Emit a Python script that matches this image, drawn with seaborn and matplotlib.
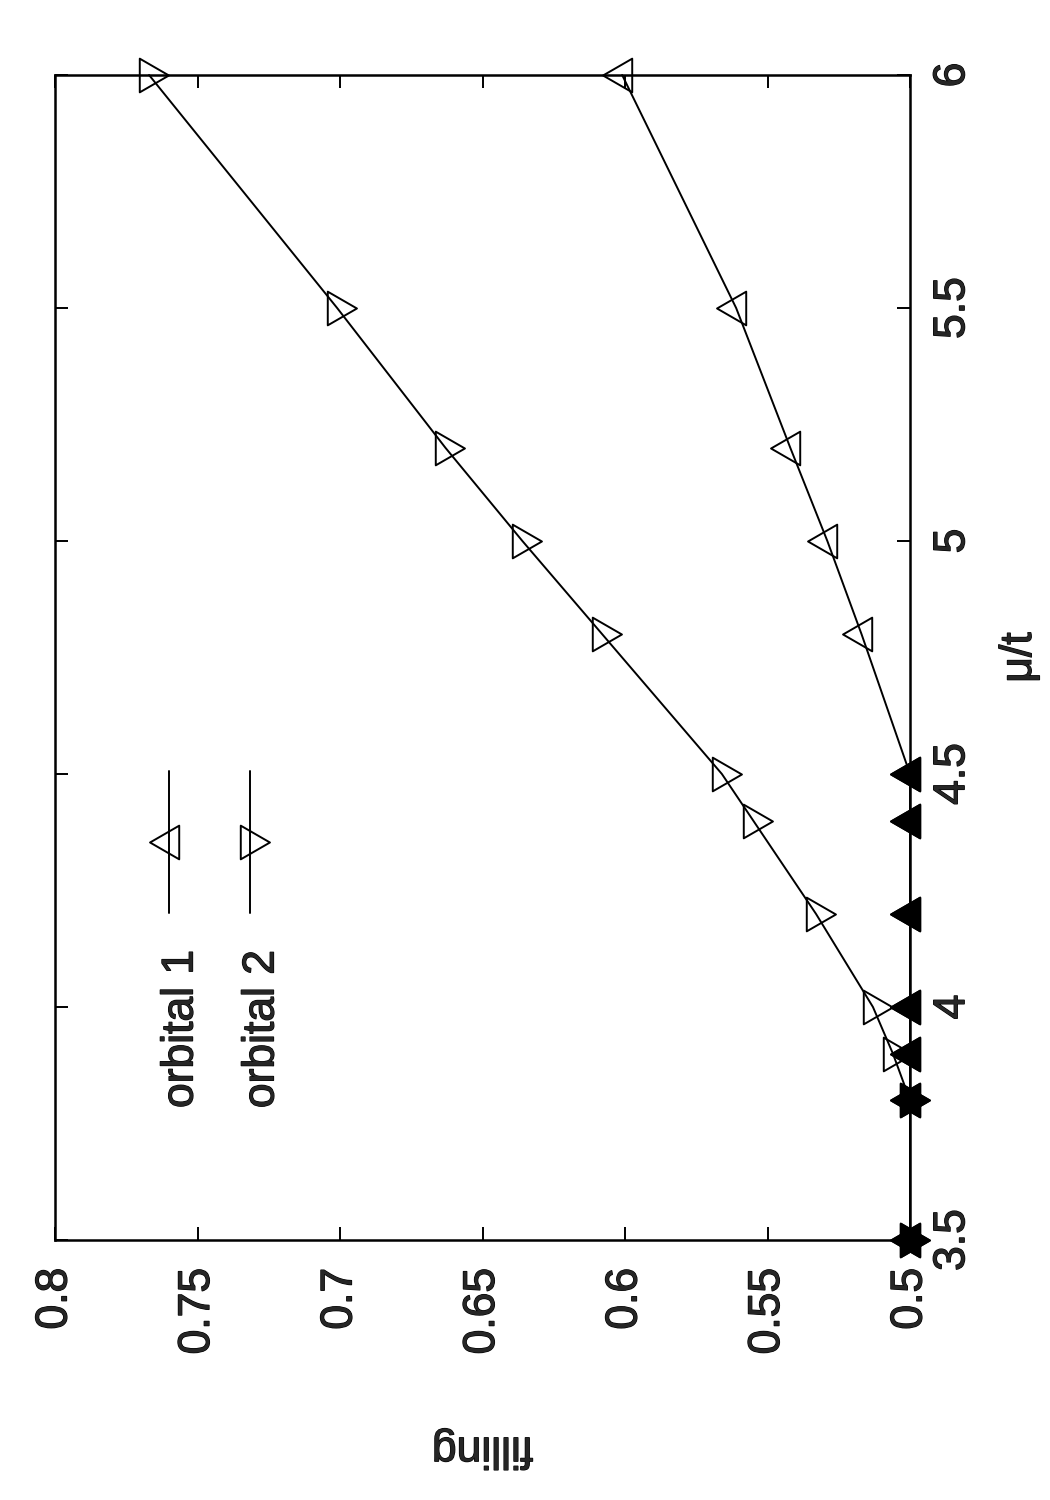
import matplotlib
matplotlib.use("Agg")
import matplotlib.pyplot as plt
import matplotlib.patheffects as pe
from matplotlib.path import Path
import numpy as np
import pandas as pd
import seaborn as sns

# Data
mu_t = [3.5, 3.8, 3.9, 4.0, 4.2, 4.4, 4.5, 4.8, 5.0, 5.2, 5.5, 6.0]
orbital_1 = [0.5, 0.5, 0.5, 0.5, 0.5, 0.5, 0.5, 0.517, 0.529, 0.542, 0.561, 0.601]
orbital_2 = [0.5, 0.5, 0.506, 0.513, 0.533, 0.555, 0.566, 0.608, 0.636, 0.663, 0.701, 0.767]
series_names = ["orbital 1", "orbital 2"]
filling_ticks = [0.5, 0.55, 0.6, 0.65, 0.7, 0.75, 0.8]
filling_tick_labels = ["0.5", "0.55", "0.6", "0.65", "0.7", "0.75", "0.8"]
mu_ticks = [3.5, 4.0, 4.5, 5.0, 5.5, 6.0]
mu_tick_labels = ["3.5", "4", "4.5", "5", "5.5", "6"]
half_filling = 0.5


def tri_marker(direction):
    # equilateral triangle centred on its centroid, like gnuplot draws it
    s3 = np.sqrt(3)
    if direction == "right":
        verts = [(2, 0), (-1, s3), (-1, -s3), (2, 0)]
    else:
        verts = [(-2, 0), (1, s3), (1, -s3), (-2, 0)]
    return Path(verts, [Path.MOVETO, Path.LINETO, Path.LINETO, Path.CLOSEPOLY])


sns.set_style("ticks")
plt.rcParams["font.family"] = ["Liberation Sans", "DejaVu Sans"]
plt.rcParams["axes.linewidth"] = 1.8

LW = 1.4
bold_text = [pe.withStroke(linewidth=0.9, foreground="black")]

df = pd.DataFrame({
    "mu": mu_t + mu_t,
    "filling": orbital_1 + orbital_2,
    "orbital": [series_names[0]] * len(mu_t) + [series_names[1]] * len(mu_t),
})
markers = {series_names[0]: tri_marker("left"), series_names[1]: tri_marker("right")}

fig = plt.figure(figsize=(10.5, 15), dpi=100)
ax = fig.add_axes([55 / 1050, 260 / 1500, 855 / 1050, 1165 / 1500])

# the plot is drawn turned by 90 degrees: filling runs right->left, mu/t bottom->top
for name in series_names:
    sub = df[df["orbital"] == name]
    sns.lineplot(data=sub, x="filling", y="mu", orient="y", estimator=None,
                 color="black", lw=LW, marker=markers[name], ms=28,
                 mfc="none", mec="black", mew=LW, clip_on=False,
                 legend=False, ax=ax, zorder=3)
    half = sub[sub["filling"] == half_filling]
    sns.scatterplot(data=half, x="filling", y="mu", marker=markers[name], s=28 ** 2,
                    color="black", edgecolor="black", linewidth=LW,
                    clip_on=False, legend=False, ax=ax, zorder=4)

ax.set_xlim(0.8, 0.5)
ax.set_ylim(3.5, 6.0)
ax.set_xticks(filling_ticks)
ax.set_xticklabels(filling_tick_labels, rotation=90)
ax.set_yticks(mu_ticks)
ax.set_yticklabels(mu_tick_labels, rotation=90, va="center")
ax.tick_params(direction="in", length=9.4, width=1.4, labelsize=32, color="black")
ax.tick_params(axis="x", top=True, bottom=True, labeltop=False, labelbottom=True, pad=20)
ax.tick_params(axis="y", left=True, right=True, labelleft=False, labelright=True, pad=16)
for lbl in ax.get_xticklabels() + ax.get_yticklabels():
    lbl.set_path_effects(bold_text)
for s in ax.spines.values():
    s.set_visible(True)
    s.set_color("black")

ax.set_xlabel("filling", rotation=180, fontsize=32, va="top", ha="center",
              path_effects=bold_text)
ax.xaxis.set_label_coords(0.5, -0.162)
ax.yaxis.set_label_position("right")
ax.set_ylabel("μ/t", rotation=90, fontsize=32, va="top", ha="center",
              rotation_mode="anchor", path_effects=bold_text)
ax.yaxis.set_label_coords(1.104, 0.5)

# gnuplot style key, turned with the plot
key_line_x = [0.1333, 0.2281]
key_text_x = [0.1474, 0.2421]
for i, name in enumerate(series_names):
    xk = key_line_x[i]
    ax.plot([xk, xk], [0.2807, 0.4026], transform=ax.transAxes, color="black", lw=LW)
    ax.plot([xk], [0.3416], transform=ax.transAxes, marker=markers[name], ms=28,
            mfc="none", mec="black", mew=LW, ls="none")
    ax.text(key_text_x[i], 0.249, name, transform=ax.transAxes, rotation=90,
            ha="center", va="top", fontsize=32, path_effects=bold_text)

fig.savefig("out.png", dpi=100)
